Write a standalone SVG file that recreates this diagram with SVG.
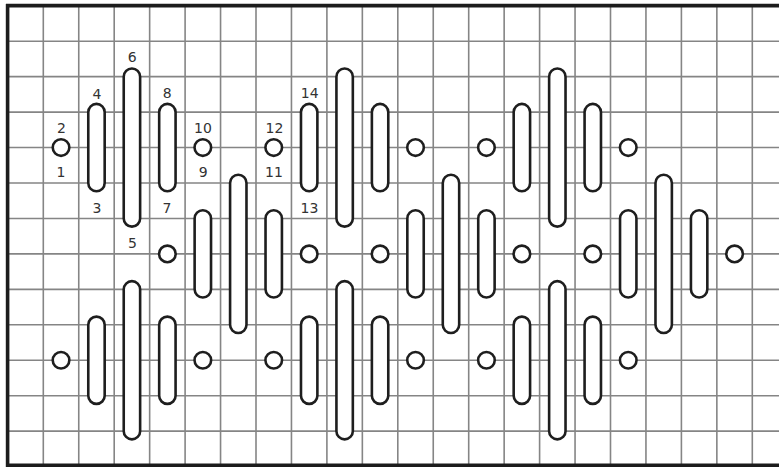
<svg xmlns="http://www.w3.org/2000/svg" width="779" height="467" viewBox="0 0 779 467">
<style>
.g{stroke:#858585;stroke-width:1.6;fill:none}
.b{stroke:#1c1c1c;stroke-width:3.6;fill:none}
.s{fill:#fff;stroke:#1e1e1e;stroke-width:2.6}
.t{font-family:"DejaVu Sans",Verdana,sans-serif;font-size:14px;fill:#333;text-anchor:middle}
</style>
<rect width="779" height="467" fill="#fff"/>
<g id="grid">
<path class="g" d="M43.3 6V465M78.75 6V465M114.2 6V465M149.65 6V465M185.1 6V465M220.55 6V465M256 6V465M291.45 6V465M326.9 6V465M362.35 6V465M397.8 6V465M433.25 6V465M468.7 6V465M504.15 6V465M539.6 6V465M575.05 6V465M610.5 6V465M645.95 6V465M681.4 6V465M716.85 6V465M752.3 6V465"/>
<path class="g" d="M8 41.2H779M8 76.65H779M8 112.1H779M8 147.55H779M8 183H779M8 218.45H779M8 253.9H779M8 289.35H779M8 324.8H779M8 360.25H779M8 395.7H779M8 431.15H779"/>
<path class="b" d="M7.6 4V467M6 5.6H779M6 465.2H779"/>
</g>
<g id="connectors"></g>
<!-- top group A (c=3) -->
<g id="n2"><circle class="s" cx="61.03" cy="147.55" r="8.3"/></g>
<g id="n4"><rect class="s" x="88.28" y="103.9" width="16.4" height="87.3" rx="8.2"/></g>
<g id="n6"><rect class="s" x="123.73" y="68.45" width="16.4" height="158.2" rx="8.2"/></g>
<g id="n8"><rect class="s" x="159.18" y="103.9" width="16.4" height="87.3" rx="8.2"/></g>
<g id="n10"><circle class="s" cx="202.83" cy="147.55" r="8.3"/></g>
<!-- top group B (c=9) -->
<g id="n12"><circle class="s" cx="273.73" cy="147.55" r="8.3"/></g>
<g id="n14"><rect class="s" x="300.98" y="103.9" width="16.4" height="87.3" rx="8.2"/></g>
<g id="tb3"><rect class="s" x="336.43" y="68.45" width="16.4" height="158.2" rx="8.2"/></g>
<g id="tb4"><rect class="s" x="371.88" y="103.9" width="16.4" height="87.3" rx="8.2"/></g>
<g id="tb5"><circle class="s" cx="415.53" cy="147.55" r="8.3"/></g>
<!-- top group C (c=15) -->
<g id="tc1"><circle class="s" cx="486.43" cy="147.55" r="8.3"/></g>
<g id="tc2"><rect class="s" x="513.68" y="103.9" width="16.4" height="87.3" rx="8.2"/></g>
<g id="tc3"><rect class="s" x="549.13" y="68.45" width="16.4" height="158.2" rx="8.2"/></g>
<g id="tc4"><rect class="s" x="584.58" y="103.9" width="16.4" height="87.3" rx="8.2"/></g>
<g id="tc5"><circle class="s" cx="628.23" cy="147.55" r="8.3"/></g>
<!-- middle group A (c=6) -->
<g id="ma1"><circle class="s" cx="167.38" cy="253.9" r="8.3"/></g>
<g id="ma2"><rect class="s" x="194.63" y="210.25" width="16.4" height="87.3" rx="8.2"/></g>
<g id="ma3"><rect class="s" x="230.08" y="174.8" width="16.4" height="158.2" rx="8.2"/></g>
<g id="ma4"><rect class="s" x="265.53" y="210.25" width="16.4" height="87.3" rx="8.2"/></g>
<g id="ma5"><circle class="s" cx="309.18" cy="253.9" r="8.3"/></g>
<!-- middle group B (c=12) -->
<g id="mb1"><circle class="s" cx="380.08" cy="253.9" r="8.3"/></g>
<g id="mb2"><rect class="s" x="407.33" y="210.25" width="16.4" height="87.3" rx="8.2"/></g>
<g id="mb3"><rect class="s" x="442.78" y="174.8" width="16.4" height="158.2" rx="8.2"/></g>
<g id="mb4"><rect class="s" x="478.23" y="210.25" width="16.4" height="87.3" rx="8.2"/></g>
<g id="mb5"><circle class="s" cx="521.88" cy="253.9" r="8.3"/></g>
<!-- middle group C (c=18) -->
<g id="mc1"><circle class="s" cx="592.78" cy="253.9" r="8.3"/></g>
<g id="mc2"><rect class="s" x="620.03" y="210.25" width="16.4" height="87.3" rx="8.2"/></g>
<g id="mc3"><rect class="s" x="655.48" y="174.8" width="16.4" height="158.2" rx="8.2"/></g>
<g id="mc4"><rect class="s" x="690.93" y="210.25" width="16.4" height="87.3" rx="8.2"/></g>
<g id="mc5"><circle class="s" cx="734.58" cy="253.9" r="8.3"/></g>
<!-- bottom group A (c=3) -->
<g id="ba1"><circle class="s" cx="61.03" cy="360.25" r="8.3"/></g>
<g id="ba2"><rect class="s" x="88.28" y="316.6" width="16.4" height="87.3" rx="8.2"/></g>
<g id="ba3"><rect class="s" x="123.73" y="281.15" width="16.4" height="158.2" rx="8.2"/></g>
<g id="ba4"><rect class="s" x="159.18" y="316.6" width="16.4" height="87.3" rx="8.2"/></g>
<g id="ba5"><circle class="s" cx="202.83" cy="360.25" r="8.3"/></g>
<!-- bottom group B (c=9) -->
<g id="bb1"><circle class="s" cx="273.73" cy="360.25" r="8.3"/></g>
<g id="bb2"><rect class="s" x="300.98" y="316.6" width="16.4" height="87.3" rx="8.2"/></g>
<g id="bb3"><rect class="s" x="336.43" y="281.15" width="16.4" height="158.2" rx="8.2"/></g>
<g id="bb4"><rect class="s" x="371.88" y="316.6" width="16.4" height="87.3" rx="8.2"/></g>
<g id="bb5"><circle class="s" cx="415.53" cy="360.25" r="8.3"/></g>
<!-- bottom group C (c=15) -->
<g id="bc1"><circle class="s" cx="486.43" cy="360.25" r="8.3"/></g>
<g id="bc2"><rect class="s" x="513.68" y="316.6" width="16.4" height="87.3" rx="8.2"/></g>
<g id="bc3"><rect class="s" x="549.13" y="281.15" width="16.4" height="158.2" rx="8.2"/></g>
<g id="bc4"><rect class="s" x="584.58" y="316.6" width="16.4" height="87.3" rx="8.2"/></g>
<g id="bc5"><circle class="s" cx="628.23" cy="360.25" r="8.3"/></g>
<g id="labels">
<text class="t" x="61.5" y="133">2</text>
<text class="t" x="61" y="176.7">1</text>
<text class="t" x="97" y="99">4</text>
<text class="t" x="97" y="212.7">3</text>
<text class="t" x="132.3" y="62">6</text>
<text class="t" x="132.5" y="248">5</text>
<text class="t" x="167.3" y="98">8</text>
<text class="t" x="167" y="212.7">7</text>
<text class="t" x="203" y="133.3">10</text>
<text class="t" x="203.3" y="176.7">9</text>
<text class="t" x="274.5" y="133.3">12</text>
<text class="t" x="274" y="176.7">11</text>
<text class="t" x="309.7" y="97.5">14</text>
<text class="t" x="309.5" y="212.7">13</text>
</g>
</svg>
